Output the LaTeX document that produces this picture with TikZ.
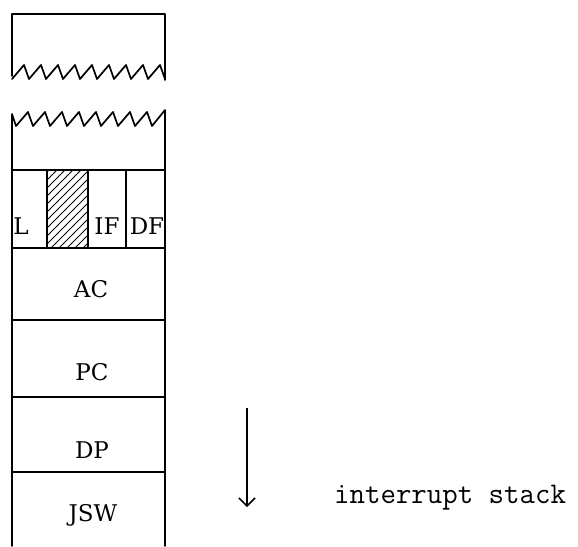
\documentclass[tikz,border=0pt]{standalone}
\usepackage{fontspec}
\newfontfamily\labelfont{DejaVu Serif}
\usetikzlibrary{arrows.meta}
\tikzset{
  frame/.style={line width=1.7pt, line join=round, line cap=round},
  thin/.style={line width=1.3pt},
  hatch/.style={line width=0.9pt},
  lbl/.style={inner sep=0pt, font=\labelfont\fontsize{23}{26}\selectfont},
  note/.style={inner sep=0pt, anchor=west, font=\ttfamily\fontsize{30}{32}\selectfont\addfontfeature{FakeBold=1.2}},
  dirarrow/.style={line width=1.5pt, -{Straight Barb[length=8pt,width=16pt,line width=1.5pt]}}
}
\begin{document}
\begin{tikzpicture}[x=1pt,y=-1pt]
\useasboundingbox (0,0) rectangle (578,546);
% top fragment box
\draw[frame] (12,76) -- (12,14) -- (165,14) -- (165,80);
\draw[frame] (12,79) foreach \i in {1,...,9} { -- ++(12,-14) -- ++(5,14) };
% upper part of stack, torn top edge
\draw[frame] (12,546) -- (12,114) -- ++(4,12)
  foreach \i in {1,...,8} { -- ++(12,-14) -- ++(5,14) } -- (165,110) -- (165,546);
% horizontal separators
\draw[thin] (12,170) -- (165,170);
\draw[thin] (12,248) -- (165,248);
\draw[thin] (12,320) -- (165,320);
\draw[thin] (12,397) -- (165,397);
\draw[thin] (12,472) -- (165,472);
% flag dividers
\draw[thin] (47,170) -- (47,248);
\draw[thin] (88,170) -- (88,248);
\draw[thin] (126,170) -- (126,248);
% hatched unused bits
\begin{scope}
  \clip (47,170) rectangle (88,248);
  \foreach \k in {-80,-72,...,48} { \draw[hatch] (47+\k,252) -- ++(82,-82); }
\end{scope}
% labels
\node[lbl] (fl) at (21,226) {L};
\node[lbl] (fif) at (107,226) {IF};
\node[lbl] (fdf) at (147,226) {DF};
\node[lbl] (ac) at (91,289) {AC};
\node[lbl] (pc) at (92,372) {PC};
\node[lbl] (dp) at (92,450) {DP};
\node[lbl] (jsw) at (93,515) {JSW};
% direction arrow
\coordinate (astart) at (247,408);
\coordinate (aend) at (247,507);
\draw[dirarrow] (astart) -- (aend);
\node[note] (istack) at (334,498) {interrupt stack};
\end{tikzpicture}
\end{document}
